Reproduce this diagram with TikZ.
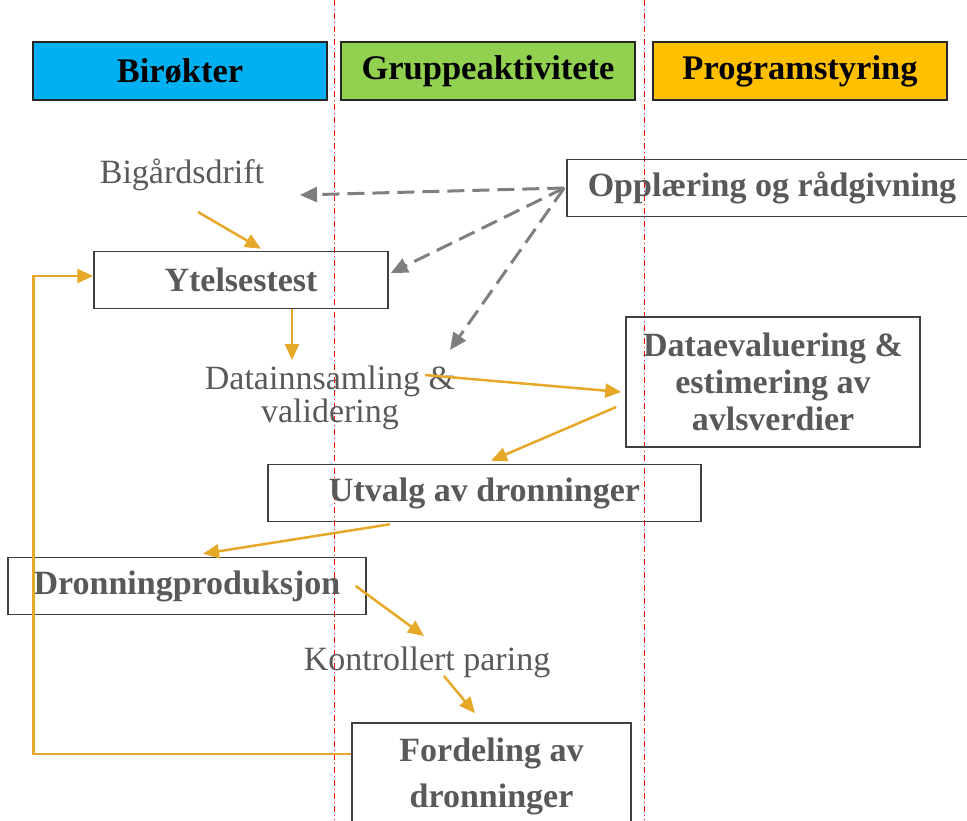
\documentclass[tikz,border=0pt]{standalone}
\usepackage{fontspec}
\setmainfont{Liberation Serif}
\usepackage{xcolor}
\usetikzlibrary{arrows.meta}

\definecolor{birokt}{RGB}{0,176,240}
\definecolor{gruppe}{RGB}{146,208,80}
\definecolor{program}{RGB}{255,192,0}
\definecolor{flowcol}{RGB}{230,168,40}
\definecolor{advcol}{RGB}{127,127,127}
\definecolor{txtgray}{RGB}{89,89,89}

\begin{document}
\begin{tikzpicture}[x=1pt, y=-1pt,
		hdrnode/.style={rectangle, draw=black!85, line width=1.5pt, minimum width=294pt, minimum height=58pt, font=\fontsize{34.5}{38}\selectfont\bfseries},
		boxnode/.style={rectangle, draw=black!75, line width=1.5pt, minimum height=57pt, text=txtgray, font=\fontsize{34}{37}\selectfont\bfseries, align=center},
		lblnode/.style={inner sep=2pt, text=txtgray, font=\fontsize{34}{34}\selectfont, align=center},
		flow/.style={draw=flowcol, line width=2.5pt, -{Triangle[length=16pt, width=14pt]}},
		advice/.style={draw=advcol, line width=3pt, dash pattern=on 17pt off 8pt, -{Triangle[length=17pt, width=15pt]}},
		lane/.style={draw=red, line width=0.8pt, dash pattern=on 6pt off 3pt on 1pt off 3pt},
	]
		\clip (0,0) rectangle (967,820);

		% lanes
		\draw[lane] (334,0) -- (334,820);
		\draw[lane] (644,0) -- (644,820);

		% headers
		\node[hdrnode, fill=birokt] (birokter) at (180,71) {Birøkter};
		\node[hdrnode, fill=gruppe] (gruppe) at (488,71) {Gruppeaktivitete};
		\node[hdrnode, fill=program] (program) at (800,71) {Programstyring};

		% nodes
		\node[boxnode, minimum width=410pt] (opplaering) at (772,188) {Opplæring og rådgivning};
		\node[lblnode] (bigard) at (182,175) {Bigårdsdrift};
		\node[boxnode, minimum width=294pt] (ytelse) at (241,280) {Ytelsestest};
		\node[lblnode, font=\fontsize{34}{33}\selectfont] (datainn) at (330,398) {Datainnsamling \&\\validering};
		\node[boxnode, minimum width=294pt, minimum height=130pt] (dataeval) at (773,382) {Dataevaluering \&\\estimering av\\avlsverdier};
		\node[boxnode, minimum width=433pt] (utvalg) at (484.5,493) {Utvalg av dronninger};
		\node[boxnode, minimum width=358pt] (dronprod) at (187,586) {Dronningproduksjon};
		\node[lblnode] (kontroll) at (427,662) {Kontrollert paring};
		\node[boxnode, minimum width=279pt, minimum height=106pt, font=\fontsize{34}{46}\selectfont\bfseries] (fordeling) at (491.5,776) {Fordeling av\\dronninger};

		% lines
		\draw[flow] ([shift={(16,37)}]bigard.center) -- ([xshift=20pt, yshift=2pt]ytelse.north);
		\draw[flow] ([xshift=51pt]ytelse.south) -- ([shift={(-38,-38)}]datainn.center);
		\draw[flow] ([shift={(95,-23)}]datainn.center) -- ([shift={(-4,10)}]dataeval.west);
		\draw[flow] ([shift={(-9,25)}]dataeval.west) -- ([shift={(6.5,-3)}]utvalg.north);
		\draw[flow] ([shift={(-94.5,2)}]utvalg.south) -- ([shift={(16,-3)}]dronprod.north);
		\draw[flow] ([shift={(-11,0)}]dronprod.east) -- ([shift={(-3,-26)}]kontroll.center);
		\draw[flow] ([shift={(17,14)}]kontroll.center) -- ([shift={(-16.5,-9)}]fordeling.north);
		\draw[flow] ([yshift=22pt]fordeling.west) -- ++(-318,0) |- ([yshift=4pt]ytelse.west);

		\draw[advice] ([xshift=-2pt]opplaering.west) -- ([shift={(118,20)}]bigard.center);
		\draw[advice] ([xshift=-2pt]opplaering.west) -- ([shift={(2,-7)}]ytelse.east);
		\draw[advice] ([xshift=-2pt]opplaering.west) -- ([shift={(120,-48)}]datainn.center);
	\end{tikzpicture}
\end{document}
